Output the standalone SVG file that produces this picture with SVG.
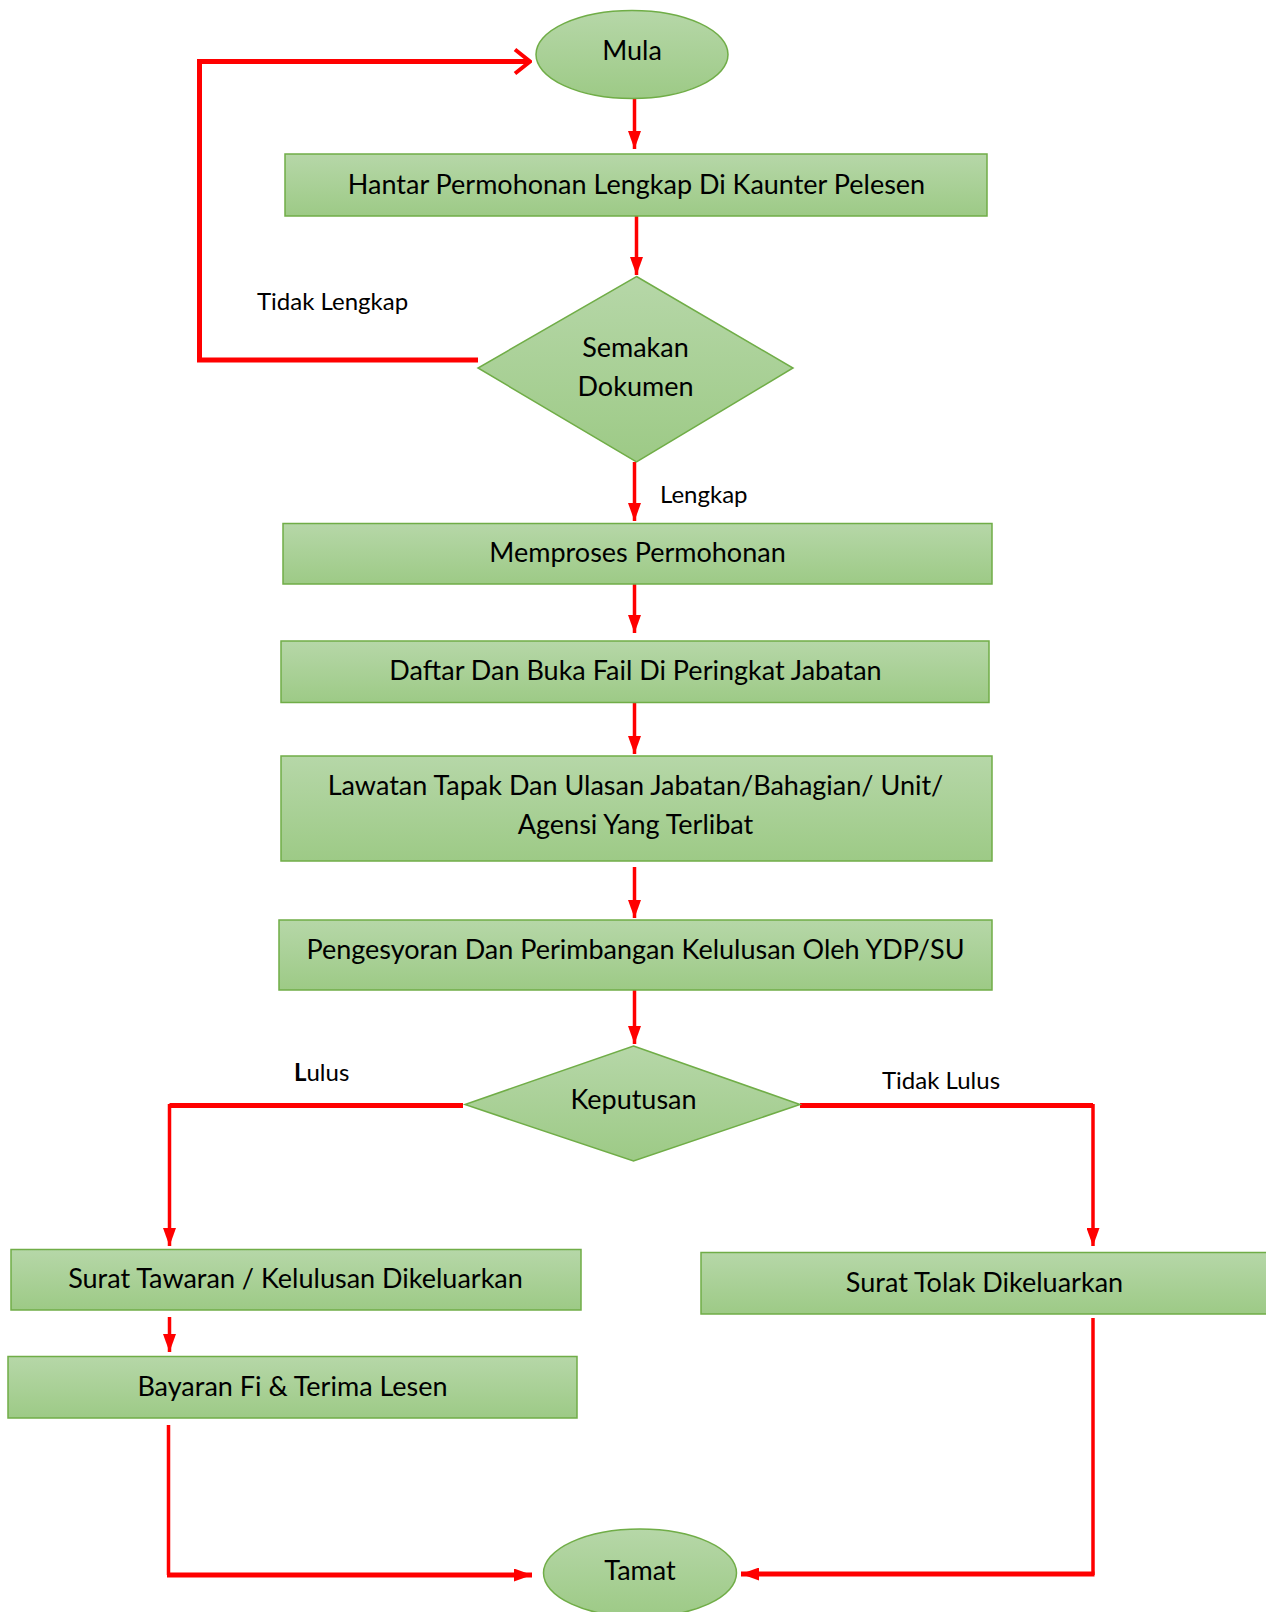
<svg xmlns="http://www.w3.org/2000/svg" width="1266" height="1612" viewBox="0 0 1266 1612">
<defs>
<linearGradient id="g" x1="0" y1="0" x2="0" y2="1">
<stop offset="0" stop-color="#b6d7a8"/>
<stop offset="1" stop-color="#9dca86"/>
</linearGradient>
<marker id="ah" viewBox="0 0 18 13" refX="18" refY="6.5" markerWidth="18" markerHeight="13" markerUnits="userSpaceOnUse" orient="auto">
<path d="M0,0 L18,6.5 L0,13 Z" fill="#ff0000"/>
</marker>
<marker id="ao" viewBox="0 0 20 30" refX="18" refY="15" markerWidth="20" markerHeight="30" markerUnits="userSpaceOnUse" orient="auto">
<path d="M3,3 L18,15 L3,27" fill="none" stroke="#ff0000" stroke-width="4"/>
</marker>
</defs>
<style>
.n{fill:url(#g);stroke:#70ad47;stroke-width:1.5}
.t{font-family:Lato,"Open Sans",sans-serif;font-size:27px;fill:#000;text-anchor:middle;dominant-baseline:central}
.l{font-family:Lato,"Open Sans",sans-serif;font-size:24px;fill:#000;dominant-baseline:central}
.c{fill:none;stroke:#ff0000;stroke-width:3.5}
.w{stroke-width:5}
</style>
<rect width="1266" height="1612" fill="#fff"/>
<g id="connectors">
<path class="c" d="M634.5,99 V149" marker-end="url(#ah)"/>
<path class="c" d="M636.5,216 V275" marker-end="url(#ah)"/>
<path class="c w" d="M478,360 H199.5 V61.5 H530" marker-end="url(#ao)"/>
<path class="c" d="M634.5,462 V521" marker-end="url(#ah)"/>
<path class="c" d="M634.5,584 V633" marker-end="url(#ah)"/>
<path class="c" d="M634.5,702 V754" marker-end="url(#ah)"/>
<path class="c" d="M634.5,867 V918" marker-end="url(#ah)"/>
<path class="c" d="M634.5,990 V1044" marker-end="url(#ah)"/>
<path class="c w" d="M463,1105.5 H169.5"/>
<path class="c" d="M169.5,1104 V1246" marker-end="url(#ah)"/>
<path class="c w" d="M800,1105.5 H1093"/>
<path class="c" d="M1093,1104 V1246" marker-end="url(#ah)"/>
<path class="c" d="M169.5,1317 V1352" marker-end="url(#ah)"/>
<path class="c" d="M168.5,1425 V1575"/>
<path class="c w" d="M167,1575 H532" marker-end="url(#ah)"/>
<path class="c" d="M1093,1318 V1575"/>
<path class="c w" d="M1094.5,1574 H741" marker-end="url(#ah)"/>
</g>
<g id="mula"><ellipse class="n" cx="632" cy="54.5" rx="96" ry="44"/><text class="t" x="632" y="49">Mula</text></g>
<g id="hantar"><rect class="n" x="285" y="154" width="702" height="62"/><text class="t" x="636.5" y="183">Hantar Permohonan Lengkap Di Kaunter Pelesen</text></g>
<g id="semakan"><path class="n" d="M636.5,276.5 L793,368 L636.5,462 L478,368 Z"/><text class="t" x="635.5" y="346">Semakan</text><text class="t" x="635.5" y="385">Dokumen</text></g>
<g id="memproses"><rect class="n" x="283" y="523.5" width="709" height="60.5"/><text class="t" x="637.5" y="551.5">Memproses Permohonan</text></g>
<g id="daftar"><rect class="n" x="281" y="641" width="708" height="61.5"/><text class="t" x="635.5" y="669">Daftar Dan Buka Fail Di Peringkat Jabatan</text></g>
<g id="lawatan"><rect class="n" x="281" y="756" width="711" height="105"/><text class="t" x="635.5" y="784">Lawatan Tapak Dan Ulasan Jabatan/Bahagian/ Unit/</text><text class="t" x="635.5" y="823">Agensi Yang Terlibat</text></g>
<g id="pengesyoran"><rect class="n" x="279" y="920" width="713" height="70"/><text class="t" x="635.5" y="948.5">Pengesyoran Dan Perimbangan Kelulusan Oleh YDP/SU</text></g>
<g id="keputusan"><path class="n" d="M633.5,1046 L800,1104.5 L633.5,1161 L465,1104.5 Z"/><text class="t" x="633.5" y="1098">Keputusan</text></g>
<g id="surat-tawaran"><rect class="n" x="11" y="1249.5" width="570" height="60.5"/><text class="t" x="295.5" y="1277.5">Surat Tawaran / Kelulusan Dikeluarkan</text></g>
<g id="surat-tolak"><rect class="n" x="701" y="1252.5" width="570" height="61.5"/><text class="t" x="984.5" y="1281">Surat Tolak Dikeluarkan</text></g>
<g id="bayaran"><rect class="n" x="8" y="1356.5" width="569" height="61.5"/><text class="t" x="292.5" y="1385.5">Bayaran Fi &amp; Terima Lesen</text></g>
<g id="tamat"><ellipse class="n" cx="640" cy="1573" rx="96.5" ry="44"/><text class="t" x="640" y="1569">Tamat</text></g>
<g id="labels">
<text class="l" x="257" y="300.5">Tidak Lengkap</text>
<text class="l" x="660" y="493">Lengkap</text>
<text class="l" x="294" y="1071"><tspan font-weight="bold">L</tspan>ulus</text>
<text class="l" x="882" y="1079.5">Tidak Lulus</text>
</g>
</svg>
